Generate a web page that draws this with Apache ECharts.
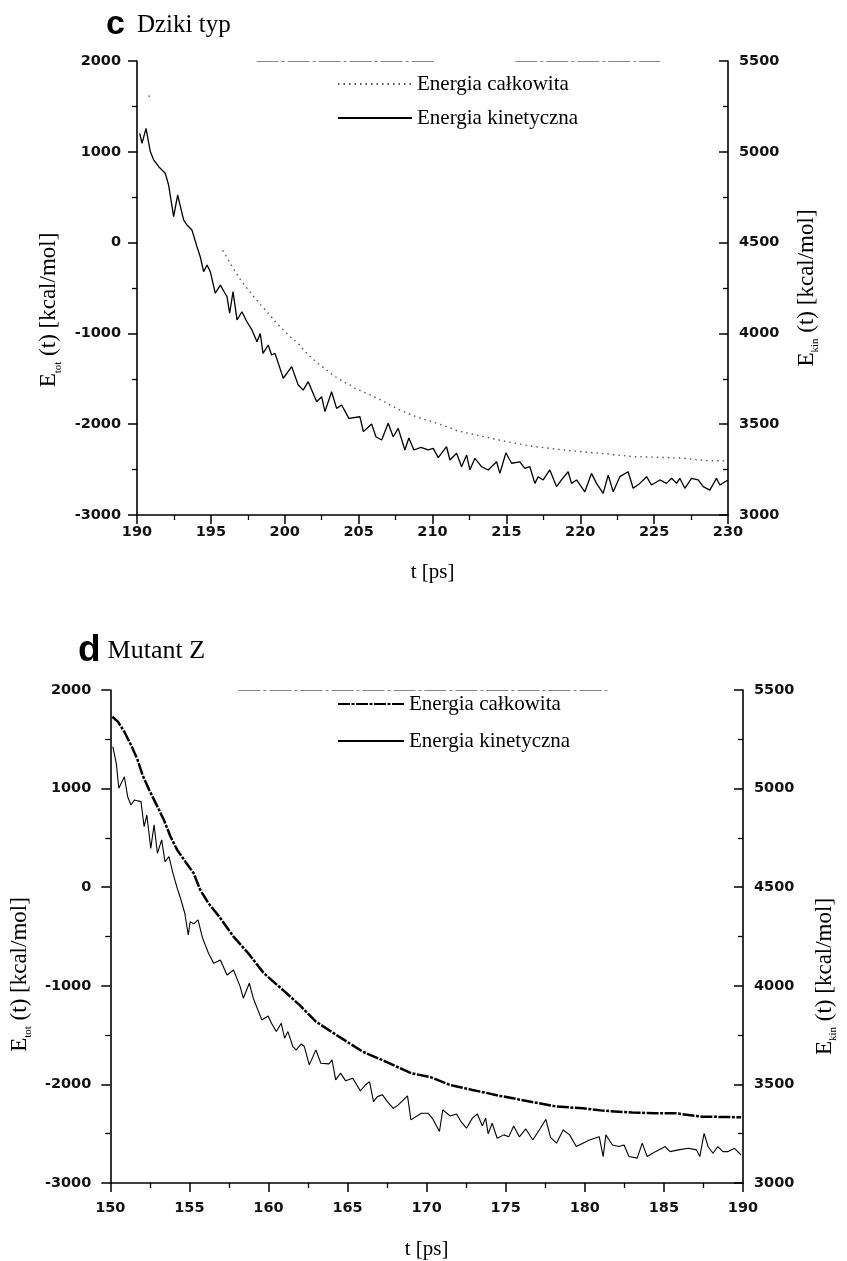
<!DOCTYPE html>
<html><head><meta charset="utf-8">
<script src="https://cdn.jsdelivr.net/npm/echarts@6/dist/echarts.min.js"></script>
<style>html,body{margin:0;padding:0;background:#fff}#c{width:847px;height:1261px}</style>
</head><body><div id="c"></div>
<script>
// ---- Panel c (Dziki typ): t [ps] vs energy ----
const cTot = [[190.80,1620],[190.95,1575],[193.5,null],[195.80,-86],[196.29,-221],[196.58,-301],[197.08,-428],[197.53,-521],[198.37,-686],[198.88,-778],[199.45,-888],[200.24,-1017],[200.96,-1121],[201.48,-1218],[202.16,-1320],[202.83,-1402],[203.28,-1463],[203.96,-1531],[204.41,-1567],[204.75,-1604],[205.63,-1666],[206.61,-1743],[207.34,-1806],[207.90,-1851],[208.92,-1920],[210.05,-1977],[210.95,-2026],[211.65,-2072],[213.43,-2136],[215.01,-2192],[216.59,-2239],[218.40,-2275],[220.20,-2305],[221.78,-2327],[223.58,-2357],[224.93,-2363],[226.96,-2374],[228.55,-2401],[229.90,-2404]];
const cKin = [[190.18,5102],[190.34,5047],[190.61,5129],[190.90,5001],[191.13,4955],[191.47,4918],[191.91,4882],[192.14,4817],[192.48,4643],[192.75,4762],[193.16,4624],[193.38,4597],[193.72,4569],[194.06,4477],[194.28,4422],[194.51,4340],[194.74,4377],[194.96,4340],[195.30,4221],[195.64,4266],[196.09,4202],[196.27,4111],[196.50,4230],[196.77,4074],[197.10,4119],[197.44,4064],[197.78,4019],[198.12,3954],[198.34,4000],[198.53,3890],[198.88,3936],[199.11,3881],[199.34,3890],[199.90,3753],[200.47,3817],[200.91,3716],[201.25,3688],[201.59,3734],[202.16,3624],[202.50,3651],[202.72,3569],[203.17,3679],[203.51,3587],[203.85,3606],[204.34,3532],[205.09,3541],[205.32,3459],[205.88,3501],[206.17,3431],[206.56,3413],[207.00,3505],[207.34,3431],[207.68,3477],[208.13,3358],[208.40,3424],[208.74,3358],[209.22,3372],[209.71,3358],[210.05,3367],[210.39,3316],[210.95,3376],[211.18,3303],[211.63,3340],[211.97,3266],[212.31,3330],[212.53,3248],[212.87,3312],[213.32,3266],[213.77,3248],[214.34,3293],[214.56,3229],[214.97,3343],[215.35,3285],[215.91,3293],[216.25,3257],[216.59,3266],[216.93,3174],[217.15,3211],[217.49,3193],[217.94,3248],[218.40,3156],[218.73,3193],[219.18,3238],[219.41,3174],[219.75,3193],[220.31,3128],[220.76,3229],[221.10,3174],[221.55,3119],[221.89,3220],[222.23,3128],[222.68,3211],[223.24,3238],[223.58,3147],[224.03,3174],[224.49,3211],[224.82,3165],[225.39,3193],[225.84,3174],[226.18,3202],[226.52,3174],[226.74,3202],[227.08,3147],[227.53,3202],[227.98,3193],[228.32,3156],[228.77,3137],[229.22,3202],[229.45,3165],[230.00,3193]];

// ---- Panel d (Mutant Z) ----
const dTot = [[150.13,1729],[150.48,1679],[150.89,1577],[151.31,1442],[151.73,1290],[152.04,1138],[152.46,986],[152.98,817],[153.39,682],[153.81,512],[154.23,378],[154.75,259],[155.27,141],[155.69,-28],[156.21,-163],[156.89,-299],[157.79,-502],[158.71,-667],[159.71,-873],[160.91,-1042],[161.96,-1194],[163.00,-1363],[164.46,-1516],[165.96,-1668],[167.52,-1777],[169.04,-1887],[170.29,-1929],[171.46,-2005],[172.89,-2056],[174.66,-2117],[176.33,-2168],[178.21,-2225],[179.88,-2242],[181.13,-2266],[183.00,-2286],[184.46,-2292],[185.71,-2292],[187.38,-2327],[189.88,-2333]];
const dKin = [[150.16,5213],[150.38,5128],[150.54,5002],[150.89,5060],[151.10,4959],[151.31,4917],[151.52,4942],[151.94,4934],[152.14,4807],[152.31,4866],[152.56,4697],[152.77,4816],[152.98,4672],[153.25,4740],[153.46,4629],[153.71,4655],[153.96,4571],[154.23,4495],[154.44,4444],[154.71,4368],[154.93,4258],[155.05,4325],[155.27,4314],[155.55,4334],[155.83,4243],[156.21,4165],[156.54,4114],[156.96,4131],[157.38,4055],[157.79,4080],[158.21,3996],[158.41,3937],[158.79,4013],[159.04,3937],[159.14,3928],[159.58,3827],[159.98,3847],[160.19,3810],[160.50,3768],[160.81,3810],[161.02,3734],[161.23,3768],[161.54,3692],[161.75,3675],[162.08,3705],[162.27,3692],[162.58,3599],[163.00,3675],[163.31,3607],[163.83,3604],[164.02,3624],[164.25,3523],[164.56,3557],[164.88,3518],[165.33,3531],[165.81,3467],[166.13,3497],[166.39,3514],[166.64,3413],[166.89,3438],[167.21,3447],[167.52,3413],[167.89,3378],[168.21,3396],[168.79,3442],[169.01,3320],[169.66,3354],[170.08,3354],[170.39,3325],[170.81,3261],[171.02,3371],[171.49,3340],[171.89,3350],[172.21,3307],[172.52,3278],[172.89,3329],[173.21,3350],[173.52,3289],[173.73,3329],[173.89,3249],[174.14,3303],[174.46,3227],[174.88,3244],[175.19,3234],[175.50,3289],[175.86,3234],[176.27,3274],[176.71,3218],[177.16,3274],[177.54,3323],[177.83,3231],[178.21,3202],[178.63,3269],[179.04,3244],[179.46,3185],[179.88,3202],[180.29,3218],[180.91,3235],[181.16,3134],[181.33,3244],[181.75,3193],[182.16,3185],[182.48,3193],[182.79,3134],[183.31,3126],[183.63,3202],[183.94,3134],[184.46,3159],[184.88,3176],[185.08,3185],[185.39,3159],[185.91,3168],[186.54,3176],[187.06,3168],[187.27,3134],[187.54,3252],[187.79,3185],[188.10,3151],[188.41,3185],[188.73,3159],[189.04,3159],[189.46,3176],[189.88,3142]];

const legendLabels = {cTot:'Energia całkowita', cKin:'Energia kinetyczna', dTot:'Energia całkowita', dKin:'Energia kinetyczna'};
const cFrame = [[198.1,210.3],[215.6,225.4]];
const dFrame = [[158.1,181.5]];

const SERIF = '"Liberation Serif","Times New Roman",serif';
const SANS = '"DejaVu Sans",sans-serif';
const plain = v => String(v);
const tickFont = {fontFamily:SANS, fontSize:14.5, fontWeight:'bold', color:'#111', formatter:plain};

function xAx(grid, min, max, nameGap, margin){
  return {type:'value', gridIndex:grid, min:min, max:max, interval:5,
    name:'t [ps]', nameLocation:'middle', nameGap:nameGap,
    nameTextStyle:{fontFamily:SERIF, fontSize:21, color:'#000'},
    axisLine:{show:true, onZero:false, lineStyle:{color:'#000', width:1.6}},
    axisTick:{show:true, length:9, lineStyle:{color:'#000', width:1.5}},
    minorTick:{show:true, splitNumber:2, length:5, lineStyle:{color:'#000', width:1.3}},
    splitLine:{show:false},
    axisLabel:Object.assign({margin:margin}, tickFont)};
}
function nameRich(pad){
  return {fontFamily:SERIF, fontSize:23, color:'#000', padding:pad, rich:{
    e:{fontFamily:SERIF, fontSize:23, lineHeight:26, verticalAlign:'top', color:'#000'},
    s:{fontFamily:SERIF, fontSize:11, lineHeight:12, verticalAlign:'bottom', color:'#000'},
    r:{fontFamily:SERIF, fontSize:23, lineHeight:26, verticalAlign:'top', color:'#000'}}};
}
function yLeft(grid, gap, pad, margin){
  return {type:'value', gridIndex:grid, position:'left', min:-3000, max:2000, interval:1000,
    name:'{e|E}{s|tot}{r| (t) [kcal/mol]}', nameLocation:'middle', nameGap:gap, nameRotate:90,
    nameTextStyle:nameRich(pad),
    axisLine:{show:true, onZero:false, lineStyle:{color:'#000', width:1.6}},
    axisTick:{show:true, length:9, lineStyle:{color:'#000', width:1.5}},
    minorTick:{show:true, splitNumber:2, length:5, lineStyle:{color:'#000', width:1.3}},
    splitLine:{show:false},
    axisLabel:Object.assign({margin:margin}, tickFont)};
}
function yRight(grid, gap, pad){
  return {type:'value', gridIndex:grid, position:'right', min:3000, max:5500, interval:500,
    name:'{e|E}{s|kin}{r| (t) [kcal/mol]}', nameLocation:'middle', nameGap:gap, nameRotate:90,
    nameTextStyle:nameRich(pad),
    axisLine:{show:true, onZero:false, lineStyle:{color:'#000', width:1.6}},
    axisTick:{show:true, inside:true, length:9, lineStyle:{color:'#000', width:1.5}},
    minorTick:{show:true, splitNumber:2, length:5, lineStyle:{color:'#000', width:1.3}},
    splitLine:{show:false},
    axisLabel:Object.assign({margin:11}, tickFont)};
}
function frameLine(spans, yv){
  return {symbol:'none', silent:true, label:{show:false},
    lineStyle:{color:'#888', type:[22,3,3,3], width:1.1},
    data: spans.map(s => [{coord:[s[0], yv]},{coord:[s[1], yv]}])};
}
const legendText = {fontFamily:SERIF, fontSize:21, lineHeight:22, color:'#000', fontWeight:'normal'};

const chart = echarts.init(document.getElementById('c'), null, {renderer:'canvas'});
chart.setOption({
  backgroundColor:'#fff',
  animation:false,
  color:['#000','#000','#000','#000'],
  title:[
    {left:101, top:2, text:'{c|c}{t|Dziki typ}', textStyle:{fontWeight:'normal', rich:{
      c:{fontFamily:'"Liberation Sans",Arial,sans-serif', fontWeight:900, fontSize:34, lineHeight:36, color:'#000', padding:[0,12,0,0]},
      t:{fontFamily:SERIF, fontWeight:'normal', fontSize:25, lineHeight:36, color:'#000'}}}},
    {left:73, top:626, text:'{c|d}{t|Mutant Z}', textStyle:{fontWeight:'normal', rich:{
      c:{fontFamily:'"Liberation Sans",Arial,sans-serif', fontWeight:900, fontSize:37, lineHeight:40, color:'#000', padding:[0,7,0,0]},
      t:{fontFamily:SERIF, fontWeight:'normal', fontSize:26, lineHeight:40, color:'#000'}}}}
  ],
  legend:[
    {orient:'vertical', left:337, top:73, padding:0, itemWidth:74, itemHeight:14, itemGap:12,
     itemStyle:{opacity:0}, data:['cTot','cKin'], formatter:n => legendLabels[n], selectedMode:false,
     textStyle:legendText},
    {orient:'vertical', left:337, top:693, padding:0, itemWidth:66, itemHeight:14, itemGap:15,
     itemStyle:{opacity:0}, data:['dTot','dKin'], formatter:n => legendLabels[n], selectedMode:false,
     textStyle:legendText}
  ],
  grid:[
    {left:137, top:61, width:591, height:454},
    {left:108.7, top:690, width:640, height:493}
  ],
  xAxis:[xAx(0,190,230,47,10), xAx(1,150,190,56,18)],
  yAxis:[yLeft(0,72,[0,44,0,0],16), yRight(0,67,[0,0,0,0]), yLeft(1,74,[0,76,0,0],19), yRight(1,70,[0,80,0,0])],
  series:[
    {name:'cTot', type:'line', xAxisIndex:0, yAxisIndex:0, data:cTot, symbol:'none', connectNulls:false,
     itemStyle:{color:'#555'}, lineStyle:{color:'#555', width:1.4, type:[1.5,4]}},
    {name:'cKin', type:'line', xAxisIndex:0, yAxisIndex:1, data:cKin, symbol:'none',
     itemStyle:{color:'#000'}, lineStyle:{color:'#000', width:1.3}, markLine:frameLine(cFrame, 5500)},
    {name:'dTot', type:'line', xAxisIndex:1, yAxisIndex:2, data:dTot, symbol:'none',
     itemStyle:{color:'#000'}, lineStyle:{color:'#000', width:2.5, type:[12,1.5,3,1.5]}},
    {name:'dKin', type:'line', xAxisIndex:1, yAxisIndex:3, data:dKin, symbol:'none',
     itemStyle:{color:'#000'}, lineStyle:{color:'#000', width:1.1}, markLine:frameLine(dFrame, 5500)}
  ]
});
</script></body></html>
